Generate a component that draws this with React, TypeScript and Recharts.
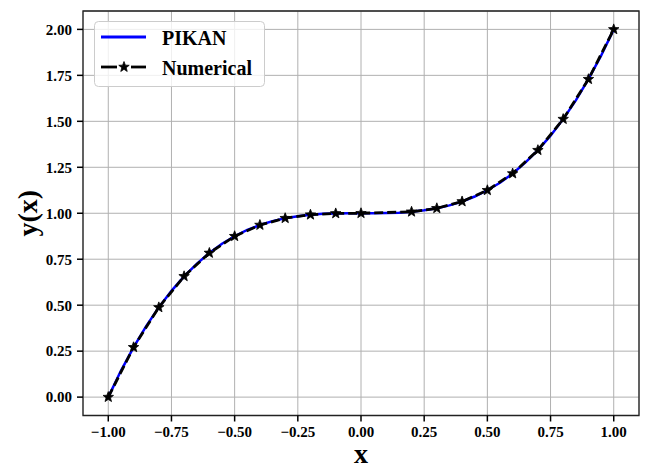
import React from 'react';
import { LineChart, Line, XAxis, YAxis, CartesianGrid, ReferenceArea } from 'recharts';

// PIKAN (smooth curve)
const pikanX = [-1, -0.95, -0.9, -0.85, -0.8, -0.75, -0.7, -0.65, -0.6, -0.55, -0.5, -0.45, -0.4, -0.35, -0.3, -0.25, -0.2, -0.15, -0.1, -0.05, 0, 0.05, 0.1, 0.15, 0.2, 0.25, 0.3, 0.35, 0.4, 0.45, 0.5, 0.55, 0.6, 0.65, 0.7, 0.75, 0.8, 0.85, 0.9, 0.95, 1];
const pikanY = [0, 0.143, 0.271, 0.386, 0.488, 0.578, 0.657, 0.725, 0.784, 0.834, 0.875, 0.909, 0.936, 0.957, 0.973, 0.984, 0.992, 0.997, 0.999, 1.0, 1.0, 1.0, 1.001, 1.003, 1.008, 1.016, 1.027, 1.043, 1.064, 1.091, 1.125, 1.166, 1.216, 1.275, 1.343, 1.422, 1.512, 1.614, 1.729, 1.857, 2.0];

// Numerical (star markers)
const numX = [-1, -0.9, -0.8, -0.7, -0.6, -0.5, -0.4, -0.3, -0.2, -0.1, 0, 0.2, 0.3, 0.4, 0.5, 0.6, 0.7, 0.8, 0.9, 1];
const numY = [0, 0.271, 0.488, 0.657, 0.784, 0.875, 0.936, 0.973, 0.992, 0.999, 1.0, 1.008, 1.027, 1.064, 1.125, 1.216, 1.343, 1.512, 1.729, 2.0];

const xTicks = [-1, -0.75, -0.5, -0.25, 0, 0.25, 0.5, 0.75, 1];
const yTicks = [0, 0.25, 0.5, 0.75, 1, 1.25, 1.5, 1.75, 2];

const pikanData = pikanX.map((x, i) => ({ x, y: pikanY[i] }));
const numData = numX.map((x, i) => ({ x, y: numY[i] }));

const FONT = '"Liberation Serif", "Times New Roman", serif';

const fmt = (v: number) => {
  const s = Math.abs(v).toFixed(2);
  return v < 0 ? '\u2212' + s : s;
};

const starPath = (cx: number, cy: number, ro = 5.5, ri = 2.3) => {
  let d = '';
  for (let i = 0; i < 10; i++) {
    const r = i % 2 === 0 ? ro : ri;
    const a = -Math.PI / 2 + (i * Math.PI) / 5;
    const px = cx + r * Math.cos(a);
    const py = cy + r * Math.sin(a);
    d += (i === 0 ? 'M' : 'L') + px.toFixed(2) + ',' + py.toFixed(2);
  }
  return d + 'Z';
};

const StarDot = (props: any) => {
  const { cx, cy, index } = props;
  if (cx == null || cy == null) return <g key={`s-${index}`} />;
  return <path key={`s-${index}`} d={starPath(cx, cy)} fill="#000" stroke="#000" strokeWidth={0.8} />;
};

const tickStyle = { fill: '#000', fontSize: 15, fontWeight: 700, fontFamily: FONT };

export default function App() {
  return (
    <div style={{ position: 'absolute', left: 0, top: 0, width: 655, height: 465, background: '#fff' }}>
      <LineChart width={655} height={465} margin={{ top: 11, right: 16, left: 10, bottom: 0 }}>
        <CartesianGrid stroke="#b0b0b0" strokeWidth={1} />
        <XAxis
          dataKey="x"
          type="number"
          domain={[-1.1, 1.1]}
          allowDataOverflow
          ticks={xTicks}
          tickFormatter={fmt}
          height={49.5}
          tickSize={6}
          tickMargin={5}
          axisLine={false}
          tickLine={{ stroke: '#000', strokeWidth: 1.5 }}
          tick={tickStyle}
          label={(p: any) => {
            const vb = p.viewBox || {};
            return (
              <text x={vb.x + vb.width / 2} y={463} textAnchor="middle" fontFamily={FONT} fontWeight={700} fontSize={28} fill="#000">
                x
              </text>
            );
          }}
        />
        <YAxis
          dataKey="y"
          type="number"
          domain={[-0.1, 2.1]}
          allowDataOverflow
          ticks={yTicks}
          tickFormatter={fmt}
          width={73}
          tickSize={6}
          tickMargin={5}
          axisLine={false}
          tickLine={{ stroke: '#000', strokeWidth: 1.5 }}
          tick={tickStyle}
          label={(p: any) => {
            const vb = p.viewBox || {};
            const cy = vb.y + vb.height / 2;
            return (
              <text x={27} y={cy} transform={`rotate(-90, 27, ${cy})`} textAnchor="middle" dominantBaseline="central" fontFamily={FONT} fontWeight={700} fontSize={28} fill="#000">
                y(x)
              </text>
            );
          }}
        />
        <ReferenceArea x1={-1.1} x2={1.1} y1={-0.1} y2={2.1} fill="none" fillOpacity={0} stroke="#222" strokeWidth={1.3} ifOverflow="visible" />
        <Line data={pikanData} dataKey="y" type="linear" stroke="#0000ff" strokeWidth={2.5} dot={false} isAnimationActive={false} />
        <Line data={numData} dataKey="y" type="linear" stroke="#000" strokeWidth={2.8} strokeDasharray="9 4" dot={StarDot} activeDot={false} isAnimationActive={false} />
      </LineChart>
      <svg width={172} height={67} style={{ position: 'absolute', left: 94, top: 21 }}>
        <rect x={0.5} y={0.5} width={170} height={65} rx={4} ry={4} fill="#fff" fillOpacity={0.8} stroke="#cccccc" strokeWidth={1} />
        <line x1={7} y1={16} x2={52} y2={16} stroke="#0000ff" strokeWidth={2.8} />
        <text x={68} y={23.5} fontFamily={FONT} fontWeight={700} fontSize={20} fill="#000">PIKAN</text>
        <line x1={7} y1={46} x2={23} y2={46} stroke="#000" strokeWidth={2.8} />
        <line x1={37} y1={46} x2={52} y2={46} stroke="#000" strokeWidth={2.8} />
        <path d={starPath(30, 46)} fill="#000" stroke="#000" strokeWidth={0.8} />
        <text x={68} y={53.5} fontFamily={FONT} fontWeight={700} fontSize={20} fill="#000">Numerical</text>
      </svg>
    </div>
  );
}
